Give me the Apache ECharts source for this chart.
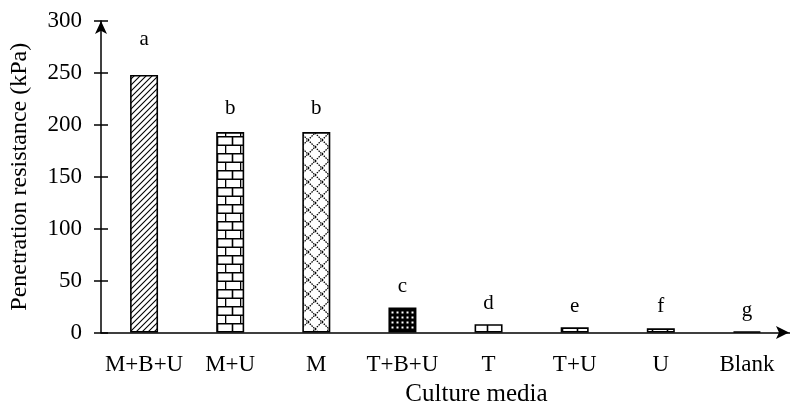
<!DOCTYPE html>
<html>
<head>
<meta charset="utf-8">
<script src="https://cdn.jsdelivr.net/npm/echarts@6/dist/echarts.min.js"></script>
<style>
  html, body { margin: 0; padding: 0; background: #fff; }
  #chart { width: 790px; height: 414px; }
</style>
</head>
<body>
<div id="chart"></div>
<script>
// Culture media and their penetration resistance (kPa)
const categories = ['M+B+U', 'M+U', 'M', 'T+B+U', 'T', 'T+U', 'U', 'Blank'];
const resistance = [248, 193, 193, 24, 8, 5, 4, 1];
const groupLetters = ['a', 'b', 'b', 'c', 'd', 'e', 'f', 'g'];
const yMin = 0, yMax = 300, yStep = 50;

const FONT = '"Liberation Serif", "Times New Roman", serif';

// --- fill patterns -------------------------------------------------------
function tile(w, h, draw) {
  const c = document.createElement('canvas');
  c.width = w; c.height = h;
  const g = c.getContext('2d');
  g.fillStyle = '#fff';
  g.fillRect(0, 0, w, h);
  g.strokeStyle = '#000';
  g.fillStyle = '#000';
  draw(g, w, h);
  return { image: c, repeat: 'repeat' };
}

// fine forward diagonal hatching
const hatch = tile(6, 6, (g) => {
  g.lineWidth = 1.1;
  g.beginPath();
  g.moveTo(-1, 7); g.lineTo(7, -1);
  g.moveTo(-4, 4); g.lineTo(4, -4);
  g.moveTo(2, 10); g.lineTo(10, 2);
  g.stroke();
});

// brick wall
const brick = tile(15, 17, (g) => {
  g.lineWidth = 1.6;
  g.beginPath();
  g.moveTo(0, 0.8); g.lineTo(15, 0.8);
  g.moveTo(0, 9.3); g.lineTo(15, 9.3);
  g.moveTo(7.5, 0.8); g.lineTo(7.5, 9.3);
  g.moveTo(0.5, 9.3); g.lineTo(0.5, 17);
  g.stroke();
});

// dotted diamond lattice
const diamond = tile(14, 14, (g) => {
  g.lineWidth = 1.3;
  g.setLineDash([1.5, 1]);
  g.beginPath();
  g.moveTo(0, 0); g.lineTo(14, 14);
  g.moveTo(0, 14); g.lineTo(14, 0);
  g.stroke();
});

// dark fill with small light dots
const dots = tile(5, 5, (g) => {
  g.fillRect(0, 0, 5, 5);
  g.fillStyle = '#fff';
  g.fillRect(1.5, 1.5, 2, 2);
});

const fills = [hatch, brick, diamond, dots, brick, brick, brick, '#000'];
const letterGap = [25, 13, 13, 11, 10, 10, 11, 10];

const chart = echarts.init(document.getElementById('chart'), null, { renderer: 'canvas' });

const axisText = { color: '#000', fontFamily: FONT, fontSize: 23 };

chart.setOption({
  animation: false,
  backgroundColor: '#fff',
  grid: { left: 100, top: 21, bottom: 81.5, width: 698 },
  xAxis: {
    type: 'category',
    data: categories,
    name: 'Culture media',
    nameLocation: 'middle',
    nameGap: 49,
    nameTextStyle: { color: '#000', fontFamily: FONT, fontSize: 25, padding: [0, 0, 0, 62] },
    axisLine: { lineStyle: { color: '#000', width: 1.5 } },
    axisTick: { show: false },
    axisLabel: Object.assign({ margin: 21, interval: 0 }, axisText),
  },
  yAxis: [
    {
      type: 'value',
      min: yMin, max: yMax, interval: yStep,
      name: 'Penetration resistance (kPa)',
      nameLocation: 'middle',
      nameRotate: 90,
      nameGap: 69,
      nameTextStyle: { color: '#000', fontFamily: FONT, fontSize: 24 },
      axisLine: { show: true, symbol: ['none', 'arrow'], symbolSize: [9, 13],
                  lineStyle: { color: '#000', width: 1.5 } },
      axisTick: { show: true, length: 7, lineStyle: { color: '#000', width: 1.5 } },
      axisLabel: Object.assign({ margin: 19 }, axisText),
      splitLine: { show: false },
    },
    {
      type: 'value',
      min: yMin, max: yMax, interval: yStep,
      position: 'left',
      axisLine: { show: false },
      axisTick: { show: true, inside: true, length: 7, lineStyle: { color: '#000', width: 1.5 } },
      axisLabel: { show: false },
      splitLine: { show: false },
    },
  ],
  series: [{
    type: 'bar',
    barWidth: 28,
    data: resistance.map((v, i) => ({
      value: v,
      itemStyle: { color: fills[i] },
      label: { distance: letterGap[i], formatter: groupLetters[i] },
    })),
    itemStyle: { borderColor: '#000', borderWidth: 1.6 },
    label: { show: true, position: 'top', color: '#000', fontFamily: FONT, fontSize: 21 },
  }],
  graphic: [{
    type: 'polygon',
    shape: { points: [[789, 332.5], [776, 326], [779, 332.5], [776, 339]] },
    style: { fill: '#000' },
    z: 100,
  }],
});
</script>
</body>
</html>
